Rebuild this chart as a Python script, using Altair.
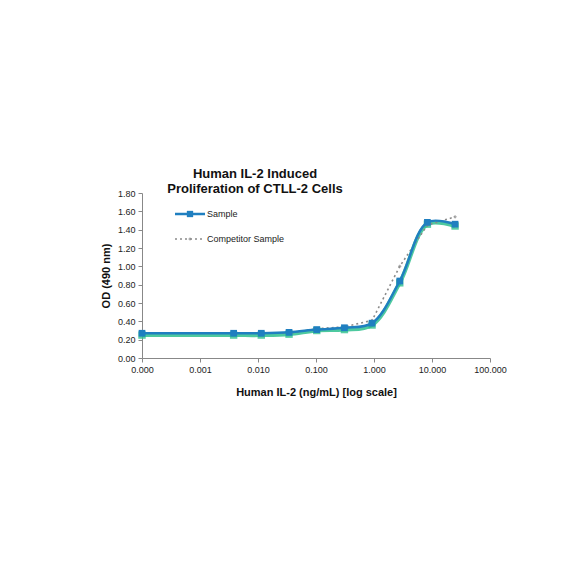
import altair as alt
import pandas as pd

conc = [0.0001, 0.0038, 0.0114, 0.0343, 0.103, 0.309, 0.926, 2.78, 8.33, 25.0]
sample = [0.27, 0.27, 0.27, 0.28, 0.31, 0.33, 0.38, 0.84, 1.48, 1.46]
glow = [0.25, 0.25, 0.25, 0.26, 0.30, 0.31, 0.36, 0.82, 1.46, 1.44]
competitor = [0.27, 0.27, 0.27, 0.27, 0.32, 0.34, 0.41, 1.00, 1.45, 1.54]
x_ticks = [0.0001, 0.001, 0.01, 0.1, 1, 10, 100]
y_ticks = [0.0, 0.2, 0.4, 0.6, 0.8, 1.0, 1.2, 1.4, 1.6, 1.8]
title_lines = ["Human IL-2 Induced", "Proliferation of CTLL-2 Cells"]
legend_labels = ["Sample", "Competitor Sample"]

BLUE = "#1f7fc0"
GREEN = "#2fc08e"
GRAY = "#8a8a8a"
FONT = "Liberation Sans"

df = pd.DataFrame({"conc": conc, "sample": sample, "glow": glow, "competitor": competitor})

xs = alt.X("conc:Q", scale=alt.Scale(type="log", domain=[0.0001, 100]),
           axis=alt.Axis(values=x_ticks, format=".3f", title="Human IL-2 (ng/mL) [log scale]",
                         grid=False, labelFontSize=9, titleFontSize=11, titleFontWeight="bold",
                         domainColor="#888", tickColor="#888", tickSize=4, labelPadding=3,
                         titlePadding=12, labelColor="#222", titleColor="#111", labelFont=FONT,
                         titleFont=FONT, labelFlush=False))

def yenc(field, axis=True):
    if axis:
        ax = alt.Axis(values=y_ticks, format=".2f", title="OD (490 nm)", grid=False,
                      labelFontSize=9, titleFontSize=11, titleFontWeight="bold",
                      domainColor="#888", tickColor="#888", tickSize=4, labelPadding=3,
                      titlePadding=6, labelColor="#222", titleColor="#111",
                      labelFont=FONT, titleFont=FONT)
    else:
        ax = None
    return alt.Y(f"{field}:Q", scale=alt.Scale(domain=[0, 1.8]), axis=ax)

base = alt.Chart(df)

glow_line = base.mark_line(color=GREEN, strokeWidth=4, interpolate="catmull-rom", opacity=0.85).encode(
    x=xs, y=yenc("glow"))
glow_pts = base.mark_point(shape="square", filled=True, color=GREEN, size=55, opacity=0.8).encode(
    x=xs, y=yenc("glow", False))
comp_line = base.mark_line(color=GRAY, strokeWidth=1.6, strokeDash=[2, 3]).encode(
    x=xs, y=yenc("competitor", False))
comp_pts = base.mark_point(shape="diamond", filled=True, color=GRAY, size=14).encode(
    x=xs, y=yenc("competitor", False))
samp_line = base.mark_line(color=BLUE, strokeWidth=2.5, interpolate="catmull-rom").encode(
    x=xs, y=yenc("sample", False))
samp_pts = base.mark_point(shape="square", filled=True, color=BLUE, size=45, opacity=1).encode(
    x=xs, y=yenc("sample", False))

# legend
leg1_line = alt.Chart(df.head(1)).mark_rule(color=BLUE, strokeWidth=2.5).encode(
    x=alt.value(33), x2=alt.value(63), y=alt.value(21))
leg1_pt = alt.Chart(df.head(1)).mark_point(shape="square", filled=True, color=BLUE, size=40, opacity=1).encode(
    x=alt.value(48), y=alt.value(21))
leg2_line = alt.Chart(df.head(1)).mark_rule(color=GRAY, strokeWidth=1.6, strokeDash=[2, 3]).encode(
    x=alt.value(33), x2=alt.value(63), y=alt.value(46))
leg2_pt = alt.Chart(df.head(1)).mark_point(shape="diamond", filled=True, color=GRAY, size=14).encode(
    x=alt.value(48), y=alt.value(46))
leg_text = alt.Chart(pd.DataFrame({"t": legend_labels, "k": [0, 1]})).mark_text(
    align="left", baseline="middle", fontSize=9, font=FONT, color="#222").encode(
    text="t:N", x=alt.value(65),
    y=alt.Y("k:Q", scale=alt.Scale(domain=[0, 1], range=[21, 46]), axis=None))

title = alt.Chart(pd.DataFrame({"t": title_lines, "k": [0, 1]})).mark_text(
    align="center", baseline="alphabetic", fontSize=13, fontWeight="bold", font=FONT, color="#111").encode(
    text="t:N", x=alt.value(113),
    y=alt.Y("k:Q", scale=alt.Scale(domain=[0, 1], range=[-15, 0]), axis=None))

chart = alt.layer(glow_line, glow_pts, comp_line, comp_pts, samp_line, samp_pts,
                  leg1_line, leg1_pt, leg2_line, leg2_pt, leg_text, title).resolve_scale(
    y="independent").properties(
    width=348, height=165, background="white",
    autosize=alt.AutoSizeParams(type="none"),
    padding={"left": 134, "top": 185, "right": 60, "bottom": 200},
).configure_view(stroke=None)

chart.save("out.html", embed_options={"renderer": "svg", "actions": False})
